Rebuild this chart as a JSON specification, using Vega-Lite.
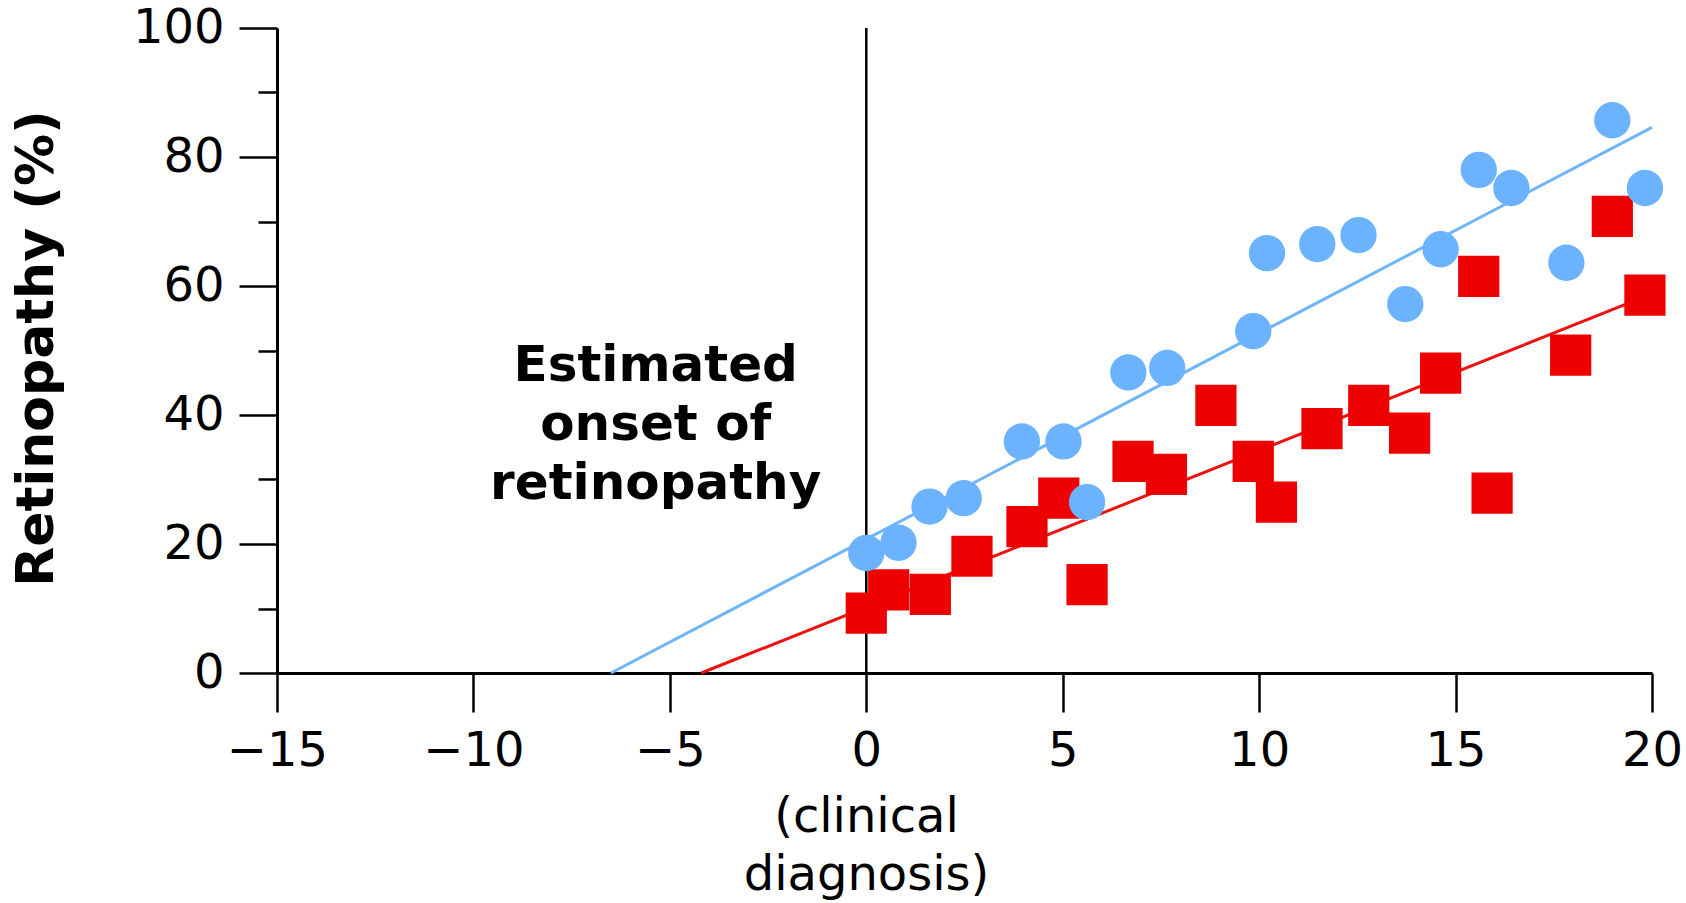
{
  "$schema": "https://vega.github.io/schema/vega-lite/v6.json",
  "autosize": {"type": "none"},
  "padding": {"left": 277, "top": 28, "right": 34, "bottom": 230},
  "width": 1375,
  "height": 645,
  "background": "white",
  "config": {
    "view": {"stroke": null},
    "font": "DejaVu Sans",
    "axis": {
      "grid": false,
      "domainColor": "#000000",
      "domainWidth": 3,
      "tickColor": "#000000",
      "tickWidth": 2.5,
      "labelColor": "#000000",
      "labelFont": "DejaVu Sans",
      "labelFontSize": 48,
      "labelFlush": false,
      "labelOverlap": false,
      "titleColor": "#000000",
      "titleFont": "DejaVu Sans"
    }
  },
  "datasets": {
    "points": [
      {"group": "Group B", "x": 0.0, "y": 9.3},
      {"group": "Group B", "x": 0.57, "y": 12.9},
      {"group": "Group B", "x": 1.63, "y": 12.2},
      {"group": "Group B", "x": 2.69, "y": 18.1},
      {"group": "Group B", "x": 4.09, "y": 22.7},
      {"group": "Group B", "x": 4.9, "y": 27.1},
      {"group": "Group B", "x": 5.62, "y": 13.7},
      {"group": "Group B", "x": 6.79, "y": 32.8},
      {"group": "Group B", "x": 7.64, "y": 30.8},
      {"group": "Group B", "x": 8.9, "y": 41.5},
      {"group": "Group B", "x": 9.85, "y": 32.8},
      {"group": "Group B", "x": 10.44, "y": 26.5},
      {"group": "Group B", "x": 11.6, "y": 37.9},
      {"group": "Group B", "x": 12.79, "y": 41.5},
      {"group": "Group B", "x": 13.83, "y": 37.2},
      {"group": "Group B", "x": 14.62, "y": 46.5},
      {"group": "Group B", "x": 15.59, "y": 61.5},
      {"group": "Group B", "x": 15.93, "y": 27.9},
      {"group": "Group B", "x": 17.93, "y": 49.3},
      {"group": "Group B", "x": 18.99, "y": 70.8},
      {"group": "Group B", "x": 19.82, "y": 58.6},
      {"group": "Group A", "x": 0.0, "y": 18.6},
      {"group": "Group A", "x": 0.82, "y": 20.2},
      {"group": "Group A", "x": 1.61, "y": 25.8},
      {"group": "Group A", "x": 2.48, "y": 27.1},
      {"group": "Group A", "x": 3.96, "y": 35.9},
      {"group": "Group A", "x": 5.02, "y": 35.9},
      {"group": "Group A", "x": 5.62, "y": 26.5},
      {"group": "Group A", "x": 6.67, "y": 46.6},
      {"group": "Group A", "x": 7.66, "y": 47.3},
      {"group": "Group A", "x": 9.85, "y": 53.0},
      {"group": "Group A", "x": 10.2, "y": 65.1},
      {"group": "Group A", "x": 11.48, "y": 66.5},
      {"group": "Group A", "x": 12.53, "y": 67.9},
      {"group": "Group A", "x": 13.72, "y": 57.2},
      {"group": "Group A", "x": 14.62, "y": 65.7},
      {"group": "Group A", "x": 15.59, "y": 78.0},
      {"group": "Group A", "x": 16.42, "y": 75.2},
      {"group": "Group A", "x": 17.82, "y": 63.6},
      {"group": "Group A", "x": 18.99, "y": 85.7},
      {"group": "Group A", "x": 19.82, "y": 75.2}
    ],
    "fits": [
      {"group": "Group A", "x": -6.5, "y": 0},
      {"group": "Group A", "x": 20.0, "y": 84.6},
      {"group": "Group B", "x": -4.2, "y": 0},
      {"group": "Group B", "x": 19.8, "y": 58.3}
    ],
    "onset": [
      {"x": 0, "y": 0, "y2": 100, "label": "Estimated onset of retinopathy", "lx": -5.36, "ly": 45.2}
    ]
  },
  "layer": [
    {
      "data": {"name": "onset"},
      "mark": {"type": "rule", "color": "#000000", "strokeWidth": 2.5},
      "encoding": {
        "x": {"field": "x", "type": "quantitative"},
        "y": {"field": "y", "type": "quantitative"},
        "y2": {"field": "y2"}
      }
    },
    {
      "data": {"name": "fits"},
      "mark": {"type": "line", "strokeWidth": 3},
      "encoding": {
        "x": {"field": "x", "type": "quantitative"},
        "y": {"field": "y", "type": "quantitative"},
        "detail": {"field": "group"},
        "color": {
          "field": "group", "type": "nominal", "legend": null,
          "scale": {"domain": ["Group A", "Group B"], "range": ["#6fb5fb", "#ee1111"]}
        }
      }
    },
    {
      "data": {"name": "points"},
      "mark": {"type": "point", "filled": true, "opacity": 1, "strokeWidth": 0},
      "encoding": {
        "x": {"field": "x", "type": "quantitative"},
        "y": {"field": "y", "type": "quantitative"},
        "shape": {
          "field": "group", "type": "nominal", "legend": null,
          "scale": {"domain": ["Group A", "Group B"], "range": ["circle", "square"]}
        },
        "size": {
          "field": "group", "type": "nominal", "legend": null,
          "scale": {"domain": ["Group A", "Group B"], "range": [1320, 1700]}
        },
        "color": {
          "field": "group", "type": "nominal", "legend": null,
          "scale": {"domain": ["Group A", "Group B"], "range": ["#6bb3ff", "#ee0000"]}
        }
      }
    },
    {
      "data": {"name": "onset"},
      "mark": {
        "type": "text",
        "font": "DejaVu Sans",
        "fontWeight": "bold",
        "fontSize": 50,
        "lineHeight": 59,
        "align": "center",
        "baseline": "alphabetic",
        "color": "#000000"
      },
      "encoding": {
        "x": {"field": "lx", "type": "quantitative"},
        "y": {"field": "ly", "type": "quantitative"},
        "text": {"value": ["Estimated", "onset of", "retinopathy"]}
      }
    }
  ],
  "resolve": {"scale": {"color": "independent"}},
  "encoding": {
    "x": {
      "type": "quantitative",
      "scale": {"domain": [-15, 20], "nice": false, "zero": false},
      "axis": {
        "values": [-15, -10, -5, 0, 5, 10, 15, 20],
        "tickSize": 39,
        "labelPadding": 15,
        "title": ["(clinical", "diagnosis)"],
        "titleFontSize": 48,
        "titleFontWeight": "normal",
        "titleLineHeight": 58,
        "titleX": 589,
        "titleY": 158,
        "titleAlign": "center",
        "titleAnchor": null,
        "titleBaseline": "alphabetic"
      }
    },
    "y": {
      "type": "quantitative",
      "scale": {"domain": [0, 100], "nice": false, "zero": true},
      "axis": {
        "values": [0, 10, 20, 30, 40, 50, 60, 70, 80, 90, 100],
        "labelExpr": "datum.value % 20 === 0 ? datum.label : ''",
        "tickSize": {"condition": {"test": "datum.value % 20 === 0", "value": 38}, "value": 19},
        "labelPadding": 15,
        "title": "Retinopathy (%)",
        "titleFontSize": 52,
        "titleFontWeight": "bold",
        "titleAngle": -90,
        "titleX": -225,
        "titleY": 320,
        "titleAlign": "center",
        "titleAnchor": null,
        "titleBaseline": "alphabetic"
      }
    }
  }
}
